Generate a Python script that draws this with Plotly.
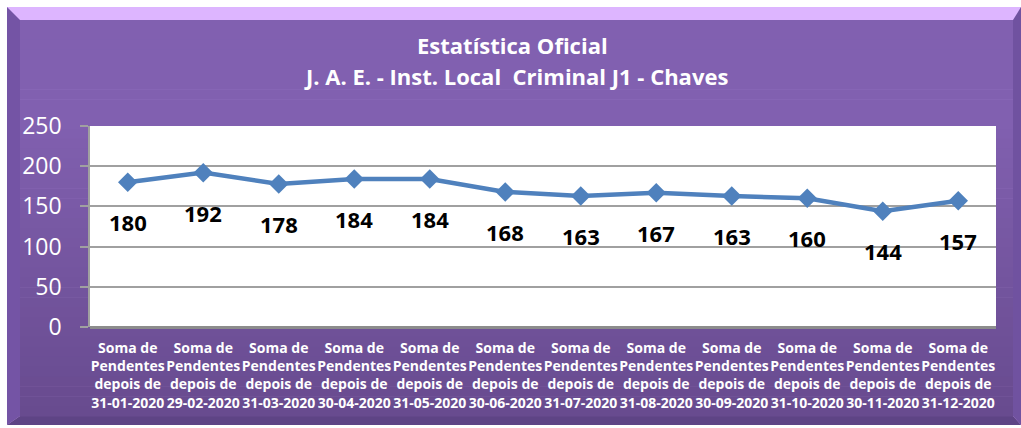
import plotly.graph_objects as go

W, H = 1021, 428

categories = ["31-01-2020", "29-02-2020", "31-03-2020", "30-04-2020", "31-05-2020", "30-06-2020",
              "31-07-2020", "31-08-2020", "30-09-2020", "31-10-2020", "30-11-2020", "31-12-2020"]
values = [180, 192, 178, 184, 184, 168, 163, 167, 163, 160, 144, 157]
tick_labels = ["<b>Soma de<br>Pendentes<br>depois de<br>" + c + "</b>" for c in categories]
y_ticks = [0, 50, 100, 150, 200, 250]
title_lines = ["Estatística Oficial", "J. A. E. - Inst. Local  Criminal J1 - Chaves"]

def px_x(v):
    return v / W

def px_y(v):
    return 1 - v / H

def lerp(c1, c2, t):
    return "rgb(%d,%d,%d)" % tuple(round(a + (b - a) * t) for a, b in zip(c1, c2))

shapes = []
# bevel frame
shapes.append(dict(type="rect", xref="paper", yref="paper", x0=px_x(7), x1=px_x(1021), y0=px_y(425), y1=px_y(7),
                   fillcolor="rgb(221,181,255)", line=dict(width=0), layer="below"))
shapes.append(dict(type="path", xref="paper", yref="paper",
                   path="M %f %f L %f %f L %f %f L %f %f Z" % (px_x(7), px_y(7), px_x(20), px_y(20), px_x(20), px_y(416), px_x(7), px_y(425)),
                   fillcolor="rgb(116,84,165)", line=dict(width=0), layer="below"))
shapes.append(dict(type="path", xref="paper", yref="paper",
                   path="M %f %f L %f %f L %f %f L %f %f Z" % (px_x(1021), px_y(7), px_x(1013), px_y(20), px_x(1013), px_y(416), px_x(1021), px_y(425)),
                   fillcolor="rgb(112,82,160)", line=dict(width=0), layer="below"))
shapes.append(dict(type="path", xref="paper", yref="paper",
                   path="M %f %f L %f %f L %f %f L %f %f Z" % (px_x(7), px_y(425), px_x(20), px_y(416), px_x(1013), px_y(416), px_x(1021), px_y(425)),
                   fillcolor="rgb(94,68,133)", line=dict(width=0), layer="below"))
# gradient face
top_c, bot_c = (129, 96, 176), (104, 75, 143)
n = 40
y0f, y1f = 20, 416
for i in range(n):
    a = y0f + (y1f - y0f) * i / n
    b = y0f + (y1f - y0f) * (i + 1) / n
    t = max(0.0, (i / (n - 1) - 0.25) / 0.75)
    shapes.append(dict(type="rect", xref="paper", yref="paper", x0=px_x(20), x1=px_x(1013),
                       y0=px_y(b + 0.5), y1=px_y(a), fillcolor=lerp(top_c, bot_c, t),
                       line=dict(width=0), layer="below"))
# plot area
shapes.append(dict(type="rect", xref="paper", yref="paper", x0=px_x(90), x1=px_x(996), y0=px_y(327), y1=px_y(126),
                   fillcolor="white", line=dict(width=0), layer="below"))

fig = go.Figure()
fig.add_trace(go.Scatter(
    x=list(range(len(values))), y=values, mode="lines+markers",
    line=dict(color="#4F81BD", width=4.5),
    marker=dict(symbol="diamond", size=15, color="#4F81BD"),
    hoverinfo="skip", showlegend=False,
))

annotations = []
for i, v in enumerate(values):
    annotations.append(dict(x=i, y=v, xref="x", yref="y", text="<b>%d</b>" % v, showarrow=False,
                            yshift=-40, yanchor="middle",
                            font=dict(family="Open Sans", size=22, color="black")))
annotations.append(dict(x=px_x(512), y=px_y(45), xref="paper", yref="paper", showarrow=False, yanchor="middle",
                        text="<b>%s</b>" % title_lines[0], font=dict(family="Open Sans", size=22, color="white")))
annotations.append(dict(x=px_x(516), y=px_y(76), xref="paper", yref="paper", showarrow=False, yanchor="middle",
                        text="<b>%s</b>" % title_lines[1], font=dict(family="Open Sans", size=22, color="white")))

fig.update_layout(
    width=W, height=H,
    margin=dict(l=0, r=0, t=0, b=0),
    paper_bgcolor="white", plot_bgcolor="rgba(0,0,0,0)",
    shapes=shapes, annotations=annotations,
    xaxis=dict(domain=[px_x(90), px_x(996)], range=[-0.5, len(values) - 0.5],
               tickmode="array", tickvals=list(range(len(values))), ticktext=tick_labels,
               tickfont=dict(family="Open Sans", size=14, color="white"),
               showgrid=False, zeroline=False, showline=False, ticks="", automargin=False,
               ticklabelstandoff=11, tickangle=0, fixedrange=True),
    yaxis=dict(domain=[px_y(327), px_y(126)], range=[0, 250], tickvals=y_ticks,
               tickfont=dict(family="Open Sans", size=23, color="white"),
               showgrid=True, gridcolor="#A0A0A0", gridwidth=1.5,
               zeroline=True, zerolinecolor="#8C8C8C", zerolinewidth=3,
               showline=True, linecolor="#A0A0A0", linewidth=1.5,
               ticks="outside", ticklen=8, tickcolor="#A0A0A0", tickwidth=1.5,
               ticklabelstandoff=14, automargin=False, fixedrange=True),
)

fig.write_html("out.html", config={"displayModeBar": False},
               post_script="document.body.style.margin='0';document.body.style.overflow='hidden';")
